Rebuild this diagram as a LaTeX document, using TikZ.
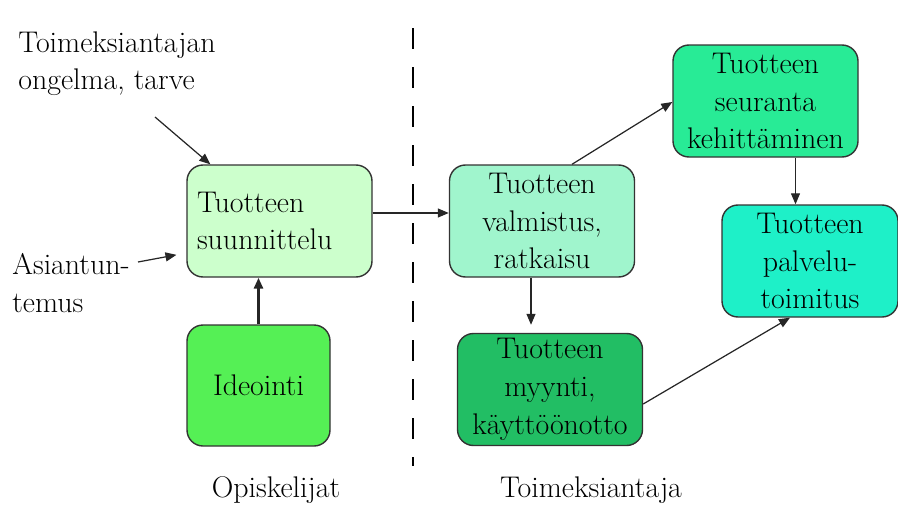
\documentclass[tikz,border=0pt]{standalone}
\usetikzlibrary{arrows.meta,positioning}
\definecolor{suunfill}{RGB}{204,255,204}
\definecolor{ideafill}{RGB}{85,240,85}
\definecolor{valmfill}{RGB}{160,245,205}
\definecolor{seurfill}{RGB}{40,235,150}
\definecolor{palvfill}{RGB}{30,240,200}
\definecolor{myynfill}{RGB}{34,190,100}
\tikzset{
  phase/.style={draw=black!80, line width=0.8pt, rounded corners=0.32cm, align=center,
    minimum width=3.7cm, minimum height=2.24cm, inner sep=0.1cm,
    font=\fontsize{17}{21.5}\selectfont},
  note/.style={align=left, inner sep=0pt, font=\fontsize{17}{21.5}\selectfont},
  flow/.style={-{Triangle[length=0.22cm,width=0.18cm]}, line width=0.7pt, black!85}
}
\begin{document}
\begin{tikzpicture}
\useasboundingbox (0,0) rectangle (17.96,-10.16);
% divider
\draw[line width=1pt, dash pattern=on 0.42cm off 0.36cm] (8.26,-0.56) -- (8.26,-9.32);
% boxes
\node (suun) [phase, fill=suunfill, text width=3.3cm, align=left] at (5.59,-4.42) {Tuotteen\\suunnittelu};
\node (idea) [phase, fill=ideafill, minimum width=2.86cm, minimum height=2.42cm] at (5.17,-7.71) {Ideointi};
\node (valm) [phase, fill=valmfill] at (10.84,-4.42) {Tuotteen\\valmistus,\\ratkaisu};
\node (seur) [phase, fill=seurfill] at (15.31,-2.02) {Tuotteen\\seuranta\\kehittäminen};
\node (palv) [phase, fill=palvfill, minimum width=3.52cm] at (16.2,-5.22) {Tuotteen\\palvelu-\\toimitus};
\node (myyn) [phase, fill=myynfill] at (11.0,-7.79) {Tuotteen\\myynti,\\käyttöönotto};
% side notes
\node (prob) [note, anchor=north west] at (0.36,-0.62) {Toimeksiantajan\\ongelma, tarve};
\node (expt) [note, anchor=north west] at (0.24,-5.06) {Asiantun-\\temus};
\node (stud) [note] at (5.52,-9.8) {Opiskelijat};
\node (clnt) [note] at (11.82,-9.8) {Toimeksiantaja};
\coordinate (probtail) at (3.1,-2.34);
\coordinate (expttail) at (2.76,-5.24);
% connectors
\draw[flow] (probtail) -- ([xshift=0.48cm]suun.north west);
\draw[flow, shorten >=0.2cm] (expttail) -- ([yshift=-0.64cm]suun.west);
\draw[flow, line width=1.6pt] (idea.north) -- (idea.north |- suun.south);
\draw[flow] ([yshift=0.16cm]suun.east) -- ([yshift=0.16cm]valm.west);
\draw[flow] ([xshift=0.6cm]valm.north) -- ([yshift=-0.02cm]seur.west);
\draw[flow] ([xshift=0.6cm]seur.south) -- ([xshift=0.6cm]seur.south |- palv.north);
\draw[flow, shorten >=0.16cm] ([xshift=-0.22cm]valm.south) -- ([xshift=-0.22cm]valm.south |- myyn.north);
\draw[flow] ([yshift=-0.29cm]myyn.east) -- ([xshift=-0.4cm]palv.south);
\end{tikzpicture}
\end{document}
